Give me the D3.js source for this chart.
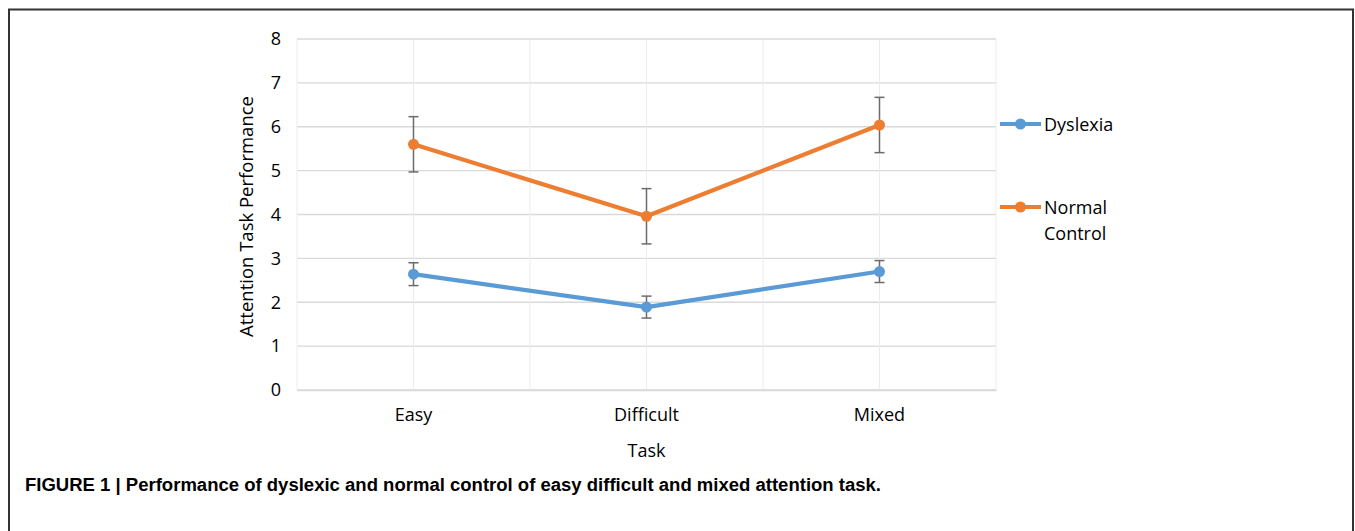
<!DOCTYPE html>
<html>
<head>
<meta charset="utf-8">
<script src="https://cdn.jsdelivr.net/npm/d3@7"></script>
<style>
  body { margin: 0; background: #fff; }
  text { font-family: "Open Sans", "Noto Sans", sans-serif; fill: #000; }
</style>
</head>
<body>
<div id="chart"></div>
<script>
// data
var tasks = ["Easy", "Difficult", "Mixed"];
var seriesNames = ["Dyslexia", "Normal Control"];
var dyslexia = [2.64, 1.89, 2.70];
var dyslexiaErr = [0.26, 0.25, 0.25];
var control = [5.60, 3.96, 6.04];
var controlErr = [0.63, 0.63, 0.63];
var yTicks = [0, 1, 2, 3, 4, 5, 6, 7, 8];
var colors = ["#5B9BD5", "#ED7D31"];

var W = 1355, H = 531;
var margin = { top: 39, left: 297, bottom: 141, right: 359 },
    width = W - margin.left - margin.right,
    height = H - margin.top - margin.bottom;

var root = d3.select("#chart").append("svg")
    .attr("width", W)
    .attr("height", H);

// figure frame
root.append("path")
    .attr("d", "M9,540 V9.5 H1353 V540")
    .attr("fill", "none")
    .attr("stroke", "#333")
    .attr("stroke-width", 2);

var svg = root.append("g")
    .attr("transform", "translate(" + margin.left + "," + margin.top + ")");

var x = d3.scaleBand().domain(tasks).range([0, width]);
var y = d3.scaleLinear().domain([0, 8]).range([height, 0]);
var cx = function (d) { return x(d) + x.bandwidth() / 2; };

// gridlines
svg.selectAll(".hgrid")
    .data(yTicks)
    .enter().append("line")
    .attr("class", "hgrid")
    .attr("x1", 0).attr("x2", width)
    .attr("y1", function (d) { return y(d); })
    .attr("y2", function (d) { return y(d); })
    .attr("stroke", "#d9d9d9")
    .attr("stroke-width", 1.3);

var vgrid = [];
tasks.forEach(function (t) { vgrid.push(x(t)); vgrid.push(cx(t)); });
vgrid.push(width);
svg.selectAll(".vgrid")
    .data(vgrid)
    .enter().append("line")
    .attr("class", "vgrid")
    .attr("x1", function (d) { return d; })
    .attr("x2", function (d) { return d; })
    .attr("y1", 0).attr("y2", height)
    .attr("stroke", "#ececec")
    .attr("stroke-width", 1);

// axes
var yAxis = d3.axisLeft(y).tickValues(yTicks).tickSize(0).tickPadding(16);
svg.append("g").attr("class", "y_axis").call(yAxis)
    .call(function (g) { g.select(".domain").remove(); })
    .selectAll("text").style("font-size", "18px");

var xAxis = d3.axisBottom(x).tickSize(0).tickPadding(18);
svg.append("g").attr("class", "x_axis")
    .attr("transform", "translate(0," + height + ")")
    .call(xAxis)
    .call(function (g) { g.select(".domain").attr("stroke", "#d9d9d9").attr("stroke-width", 1.3); })
    .selectAll("text").style("font-size", "18px");

svg.append("text")
    .attr("x", cx("Difficult"))
    .attr("y", height + 67)
    .attr("text-anchor", "middle")
    .style("font-size", "18px")
    .text("Task");

svg.append("text")
    .attr("transform", "translate(" + (247 - margin.left + 6) + "," + (height / 2 + 2) + ") rotate(-90)")
    .attr("text-anchor", "middle")
    .style("font-size", "18.5px")
    .text("Attention Task Performance");

// series
var series = [
    { name: seriesNames[0], values: dyslexia, err: dyslexiaErr, color: colors[0] },
    { name: seriesNames[1], values: control, err: controlErr, color: colors[1] }
];

var line = d3.line()
    .x(function (d, i) { return cx(tasks[i]); })
    .y(function (d) { return y(d); });

series.forEach(function (s) {
    svg.append("path")
        .datum(s.values)
        .attr("d", line)
        .attr("fill", "none")
        .attr("stroke", s.color)
        .attr("stroke-width", 4.2)
        .attr("stroke-linejoin", "round");

    var eb = svg.append("g");
    s.values.forEach(function (v, i) {
        var px = cx(tasks[i]);
        var top = y(v + s.err[i]), bot = y(v - s.err[i]);
        eb.append("line").attr("x1", px).attr("x2", px).attr("y1", top).attr("y2", bot)
            .attr("stroke", "#6b6b6b").attr("stroke-width", 1.5);
        [top, bot].forEach(function (yy) {
            eb.append("line").attr("x1", px - 5).attr("x2", px + 5).attr("y1", yy).attr("y2", yy)
                .attr("stroke", "#6b6b6b").attr("stroke-width", 1.5);
        });
    });

    svg.selectAll(null)
        .data(s.values)
        .enter().append("circle")
        .attr("cx", function (d, i) { return cx(tasks[i]); })
        .attr("cy", function (d) { return y(d); })
        .attr("r", 5.5)
        .attr("fill", s.color);
});

// legend
var legend = root.append("g");
var legY = [124, 207];
series.forEach(function (s, i) {
    var g = legend.append("g").attr("transform", "translate(1000," + legY[i] + ")");
    g.append("line").attr("x1", 0).attr("x2", 41).attr("y1", 0).attr("y2", 0)
        .attr("stroke", s.color).attr("stroke-width", 4.2);
    g.append("circle").attr("cx", 20.5).attr("cy", 0).attr("r", 5.5).attr("fill", s.color);
    var words = s.name === "Normal Control" ? ["Normal", "Control"] : [s.name];
    var t = g.append("text").attr("x", 44).attr("y", 7).style("font-size", "18px");
    words.forEach(function (w, k) {
        t.append("tspan").attr("x", 44).attr("dy", k === 0 ? 0 : 25.5).text(w);
    });
});

// caption
root.append("text")
    .attr("x", 25)
    .attr("y", 491)
    .attr("textLength", 856)
    .attr("lengthAdjust", "spacingAndGlyphs")
    .style("font-family", "'Liberation Sans Narrow', 'Liberation Sans', Arial, sans-serif")
    .style("font-weight", "bold")
    .style("font-size", "18px")
    .text("FIGURE 1 | Performance of dyslexic and normal control of easy difficult and mixed attention task.");
</script>
</body>
</html>
